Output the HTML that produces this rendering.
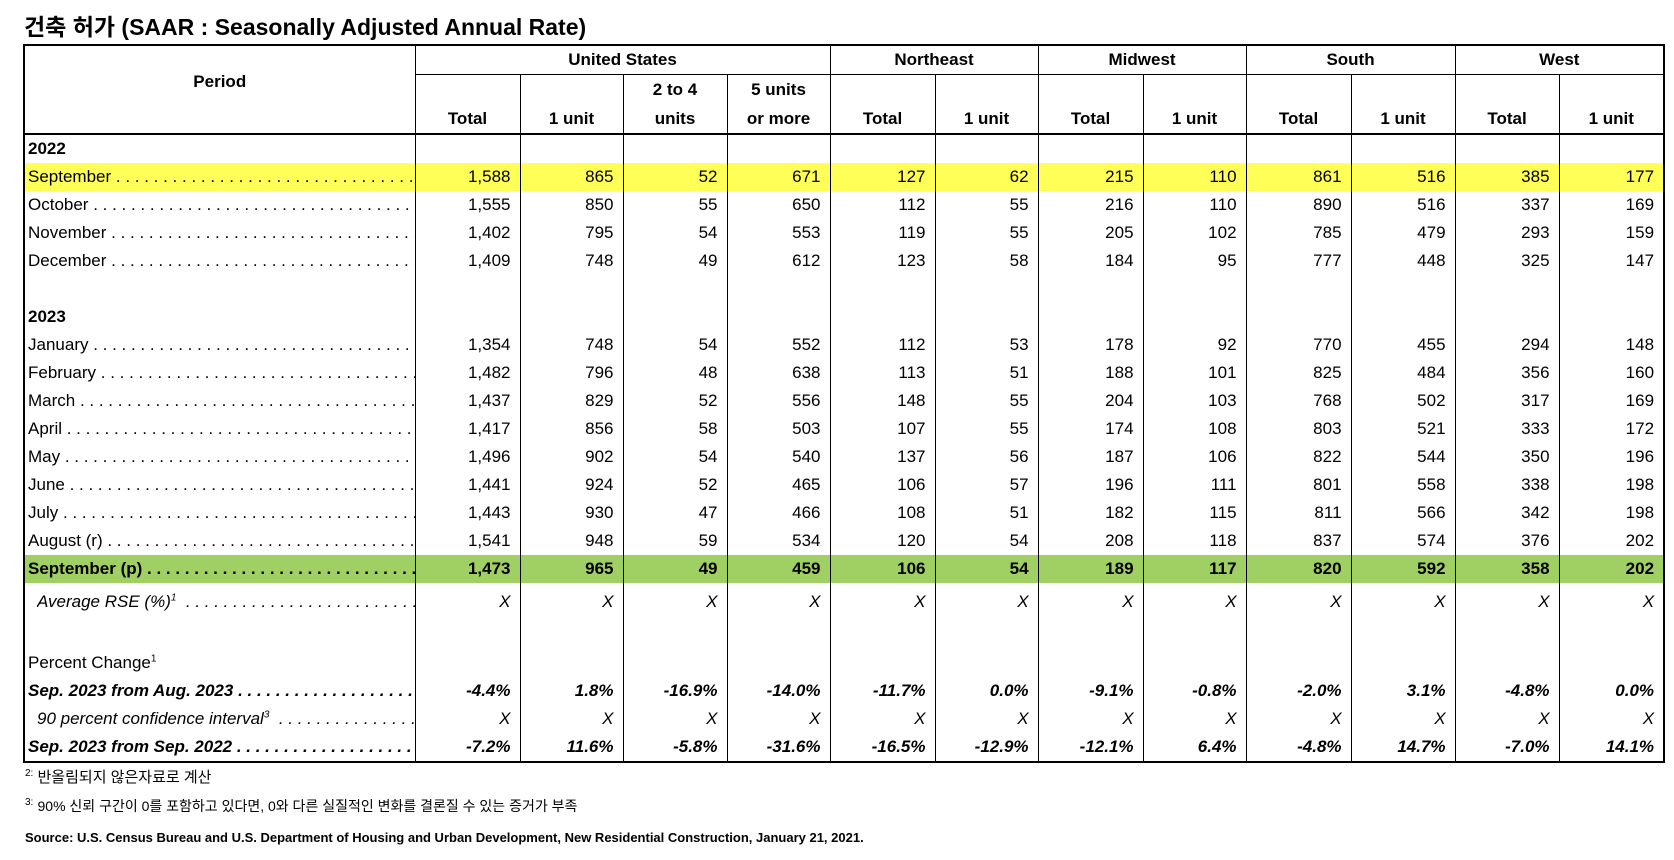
<!DOCTYPE html>
<html><head><meta charset="utf-8"><style>
body{margin:0;background:#fff;width:1674px;height:860px;position:relative;overflow:hidden;font-family:"Liberation Sans","Noto Sans CJK KR",sans-serif;color:#000}
.title{position:absolute;left:24px;top:8px;font-size:23px;font-weight:bold;white-space:nowrap}
table{position:absolute;left:23px;top:44px;width:1640px;border-collapse:collapse;table-layout:fixed;border:2px solid #000}
td{padding:0;font-size:17px;white-space:nowrap;overflow:hidden;border-left:1.5px solid #000;border-right:1.5px solid #000;text-align:right;padding-right:9px;height:28px;line-height:28px}
td.l{text-align:left;padding-left:3px;padding-right:0}
.h td{font-weight:bold;text-align:center;padding:0}
.b{font-weight:bold}.i{font-style:italic}
.y td{background:#ffff57}.g td{background:#a0cf63;font-weight:bold}
.lb{display:block;overflow:hidden;white-space:nowrap}
sup{font-size:10px;line-height:0}
.fn{position:absolute;left:25px;font-size:15px;white-space:nowrap}
</style></head><body>
<div class="title">건축 허가 (SAAR : Seasonally Adjusted Annual Rate)</div>
<table>
<colgroup><col style="width:391px"><col style="width:105px"><col style="width:103px"><col style="width:104px"><col style="width:103px"><col style="width:105px"><col style="width:103px"><col style="width:105px"><col style="width:103px"><col style="width:105px"><col style="width:104px"><col style="width:104px"><col style="width:105px"></colgroup>
<tr class="h"><td rowspan="2" style="vertical-align:top;line-height:20px;padding-top:26px;border-bottom:2px solid #000">Period</td><td colspan="4" style="border-bottom:1.5px solid #000">United States</td><td colspan="2" style="border-bottom:1.5px solid #000">Northeast</td><td colspan="2" style="border-bottom:1.5px solid #000">Midwest</td><td colspan="2" style="border-bottom:1.5px solid #000">South</td><td colspan="2" style="border-bottom:1.5px solid #000">West</td></tr>
<tr class="h" style="border-bottom:2px solid #000"><td style="height:57px;line-height:29px;vertical-align:bottom">Total</td><td style="vertical-align:bottom;line-height:29px">1 unit</td><td style="vertical-align:bottom;line-height:29px">2 to 4<br>units</td><td style="vertical-align:bottom;line-height:29px">5 units<br>or more</td><td style="vertical-align:bottom;line-height:29px">Total</td><td style="vertical-align:bottom;line-height:29px">1 unit</td><td style="vertical-align:bottom;line-height:29px">Total</td><td style="vertical-align:bottom;line-height:29px">1 unit</td><td style="vertical-align:bottom;line-height:29px">Total</td><td style="vertical-align:bottom;line-height:29px">1 unit</td><td style="vertical-align:bottom;line-height:29px">Total</td><td style="vertical-align:bottom;line-height:29px">1 unit</td></tr>
<tr><td class="l b">2022</td><td></td><td></td><td></td><td></td><td></td><td></td><td></td><td></td><td></td><td></td><td></td><td></td></tr>
<tr class="y"><td class="l"><span class="lb">September . . . . . . . . . . . . . . . . . . . . . . . . . . . . . . . . . . . .</span></td><td>1,588</td><td>865</td><td>52</td><td>671</td><td>127</td><td>62</td><td>215</td><td>110</td><td>861</td><td>516</td><td>385</td><td>177</td></tr>
<tr><td class="l"><span class="lb">October . . . . . . . . . . . . . . . . . . . . . . . . . . . . . . . . . . . . .</span></td><td>1,555</td><td>850</td><td>55</td><td>650</td><td>112</td><td>55</td><td>216</td><td>110</td><td>890</td><td>516</td><td>337</td><td>169</td></tr>
<tr><td class="l"><span class="lb">November . . . . . . . . . . . . . . . . . . . . . . . . . . . . . . . . . . . .</span></td><td>1,402</td><td>795</td><td>54</td><td>553</td><td>119</td><td>55</td><td>205</td><td>102</td><td>785</td><td>479</td><td>293</td><td>159</td></tr>
<tr><td class="l"><span class="lb">December . . . . . . . . . . . . . . . . . . . . . . . . . . . . . . . . . . . .</span></td><td>1,409</td><td>748</td><td>49</td><td>612</td><td>123</td><td>58</td><td>184</td><td>95</td><td>777</td><td>448</td><td>325</td><td>147</td></tr>
<tr><td class="l"></td><td></td><td></td><td></td><td></td><td></td><td></td><td></td><td></td><td></td><td></td><td></td><td></td></tr>
<tr><td class="l b">2023</td><td></td><td></td><td></td><td></td><td></td><td></td><td></td><td></td><td></td><td></td><td></td><td></td></tr>
<tr><td class="l"><span class="lb">January . . . . . . . . . . . . . . . . . . . . . . . . . . . . . . . . . . . . .</span></td><td>1,354</td><td>748</td><td>54</td><td>552</td><td>112</td><td>53</td><td>178</td><td>92</td><td>770</td><td>455</td><td>294</td><td>148</td></tr>
<tr><td class="l"><span class="lb">February . . . . . . . . . . . . . . . . . . . . . . . . . . . . . . . . . . . .</span></td><td>1,482</td><td>796</td><td>48</td><td>638</td><td>113</td><td>51</td><td>188</td><td>101</td><td>825</td><td>484</td><td>356</td><td>160</td></tr>
<tr><td class="l"><span class="lb">March . . . . . . . . . . . . . . . . . . . . . . . . . . . . . . . . . . . . . .</span></td><td>1,437</td><td>829</td><td>52</td><td>556</td><td>148</td><td>55</td><td>204</td><td>103</td><td>768</td><td>502</td><td>317</td><td>169</td></tr>
<tr><td class="l"><span class="lb">April . . . . . . . . . . . . . . . . . . . . . . . . . . . . . . . . . . . . . . .</span></td><td>1,417</td><td>856</td><td>58</td><td>503</td><td>107</td><td>55</td><td>174</td><td>108</td><td>803</td><td>521</td><td>333</td><td>172</td></tr>
<tr><td class="l"><span class="lb">May . . . . . . . . . . . . . . . . . . . . . . . . . . . . . . . . . . . . . . . .</span></td><td>1,496</td><td>902</td><td>54</td><td>540</td><td>137</td><td>56</td><td>187</td><td>106</td><td>822</td><td>544</td><td>350</td><td>196</td></tr>
<tr><td class="l"><span class="lb">June . . . . . . . . . . . . . . . . . . . . . . . . . . . . . . . . . . . . . . . .</span></td><td>1,441</td><td>924</td><td>52</td><td>465</td><td>106</td><td>57</td><td>196</td><td>111</td><td>801</td><td>558</td><td>338</td><td>198</td></tr>
<tr><td class="l"><span class="lb">July . . . . . . . . . . . . . . . . . . . . . . . . . . . . . . . . . . . . . . . .</span></td><td>1,443</td><td>930</td><td>47</td><td>466</td><td>108</td><td>51</td><td>182</td><td>115</td><td>811</td><td>566</td><td>342</td><td>198</td></tr>
<tr><td class="l"><span class="lb">August (r) . . . . . . . . . . . . . . . . . . . . . . . . . . . . . . . . . . .</span></td><td>1,541</td><td>948</td><td>59</td><td>534</td><td>120</td><td>54</td><td>208</td><td>118</td><td>837</td><td>574</td><td>376</td><td>202</td></tr>
<tr class="g"><td class="l"><span class="lb">September (p) . . . . . . . . . . . . . . . . . . . . . . . . . . . . . . . .</span></td><td>1,473</td><td>965</td><td>49</td><td>459</td><td>106</td><td>54</td><td>189</td><td>117</td><td>820</td><td>592</td><td>358</td><td>202</td></tr>
<tr class="i"><td class="l" style="height:38px;line-height:38px;padding-left:12px"><span class="lb">Average RSE (%)<sup>1</sup> &nbsp;. . . . . . . . . . . . . . . . . . . . . . . . . . . . .</span></td><td>X</td><td>X</td><td>X</td><td>X</td><td>X</td><td>X</td><td>X</td><td>X</td><td>X</td><td>X</td><td>X</td><td>X</td></tr>
<tr><td class="l" style="height:22px"></td><td></td><td></td><td></td><td></td><td></td><td></td><td></td><td></td><td></td><td></td><td></td><td></td></tr>
<tr><td class="l">Percent Change<sup>1</sup></td><td></td><td></td><td></td><td></td><td></td><td></td><td></td><td></td><td></td><td></td><td></td><td></td></tr>
<tr class="b i"><td class="l"><span class="lb">Sep. 2023 from Aug. 2023 . . . . . . . . . . . . . . . . . . . . . .</span></td><td>-4.4%</td><td>1.8%</td><td>-16.9%</td><td>-14.0%</td><td>-11.7%</td><td>0.0%</td><td>-9.1%</td><td>-0.8%</td><td>-2.0%</td><td>3.1%</td><td>-4.8%</td><td>0.0%</td></tr>
<tr class="i"><td class="l" style="padding-left:12px"><span class="lb">90 percent confidence interval<sup>3</sup> &nbsp;. . . . . . . . . . . . . . .</span></td><td>X</td><td>X</td><td>X</td><td>X</td><td>X</td><td>X</td><td>X</td><td>X</td><td>X</td><td>X</td><td>X</td><td>X</td></tr>
<tr class="b i"><td class="l"><span class="lb">Sep. 2023 from Sep. 2022 . . . . . . . . . . . . . . . . . . . . . .</span></td><td>-7.2%</td><td>11.6%</td><td>-5.8%</td><td>-31.6%</td><td>-16.5%</td><td>-12.9%</td><td>-12.1%</td><td>6.4%</td><td>-4.8%</td><td>14.7%</td><td>-7.0%</td><td>14.1%</td></tr>
</table>
<div class="fn" style="top:766px"><sup>2:</sup> 반올림되지 않은자료로 계산</div>
<div class="fn" style="top:796px"><sup>3:</sup> <span style="font-size:14px">90% 신뢰 구간이 0를 포함하고 있다면, 0와 다른 실질적인 변화를 결론질 수 있는 증거가 부족</span></div>
<div class="fn" style="top:830px;font-size:13px;font-weight:bold">Source: U.S. Census Bureau and U.S. Department of Housing and Urban Development, New Residential Construction, January 21, 2021.</div>
</body></html>
